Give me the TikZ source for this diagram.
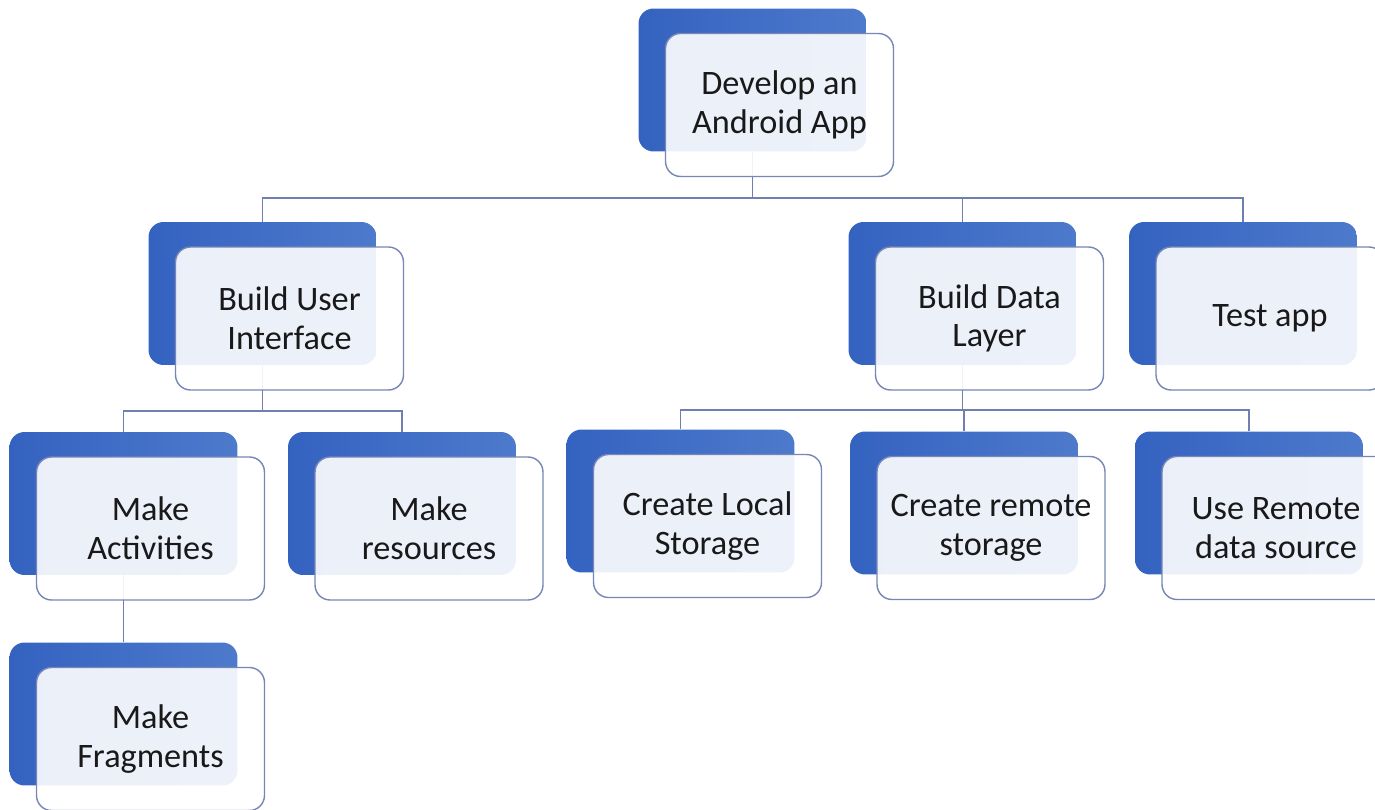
\documentclass[tikz,border=0pt]{standalone}
\usepackage{fontspec}
\setmainfont{Carlito}
\usetikzlibrary{positioning}
\usetikzlibrary{backgrounds}
\definecolor{boxblue}{RGB}{78,122,204}
\definecolor{boxdark}{RGB}{52,98,192}
\definecolor{edgeblue}{RGB}{118,134,182}
\definecolor{linkblue}{RGB}{112,126,176}

\begin{document}
\begin{tikzpicture}[
    x=0.02cm, y=-0.02cm,
    back/.style={rectangle,rounded corners=0.3cm,minimum width=4.56cm,minimum height=2.86cm,left color=boxdark,right color=boxblue},
    front/.style={rectangle,rounded corners=0.3cm,minimum width=4.56cm,minimum height=2.86cm,draw=edgeblue,thick,fill=white,fill opacity=0.9,text opacity=1,align=center,text=black!90,font=\fontsize{19.5}{22}\selectfont},
    link/.style={draw=linkblue,line width=1pt}
    ]
    \useasboundingbox (0,0) rectangle (1375,810);
    \clip (0,0) rectangle (1375,810);
    % back boxes
    \node (root) [back] at (752.5,80) {};
    \node (ui) [back] at (262.5,293.5) {};
    \node (data) [back] at (962.5,293.5) {};
    \node (test) [back] at (1243,293.5) {};
    \node (act) [back] at (123.5,503.5) {};
    \node (res) [back] at (402,503.5) {};
    \node (local) [back] at (680.5,501) {};
    \node (remote) [back] at (964,503) {};
    \node (usere) [back] at (1249,503) {};
    \node (frag) [back] at (123.5,714) {};
    % front boxes
    \node (root f) [front] at ([shift={(27,25)}]root.center) {Develop an\\Android App};
    \node (ui f) [front] at ([shift={(27,25)}]ui.center) {Build User\\Interface};
    \node (data f) [front] at ([shift={(27,25)}]data.center) {Build Data\\Layer};
    \node (test f) [front] at ([shift={(27,25)}]test.center) {Test app};
    \node (act f) [front] at ([shift={(27,25)}]act.center) {Make\\Activities};
    \node (res f) [front] at ([shift={(27,25)}]res.center) {Make\\resources};
    \node (local f) [front] at ([shift={(27,25)}]local.center) {Create Local\\Storage};
    \node (remote f) [front] at ([shift={(27,25)}]remote.center) {Create remote\\storage};
    \node (usere f) [front] at ([shift={(27,25)}]usere.center) {Use Remote\\data source};
    \node (frag f) [front] at ([shift={(27,25)}]frag.center) {Make\\Fragments};
    \begin{scope}[on background layer]
    \draw[link] (root.south) -- ++(0,46) -| (ui.north);
    \draw[link] (root.south) -- ++(0,46) -| (data.north);
    \draw[link] (root.south) -- ++(0,46) -| (test.north);
    \draw[link] (ui.south) -- ++(0,46) -| (act.north);
    \draw[link] (ui.south) -- ++(0,46) -| (res.north);
    \draw[link] (data.south) -- ++(0,45) -| (local.north);
    \draw[link] (data.south) -- ++(0,45) -| (remote.north);
    \draw[link] (data.south) -- ++(0,45) -| (usere.north);
    \draw[link] (act.south) -- (frag.north);
    \end{scope}
  \end{tikzpicture}
\end{document}
